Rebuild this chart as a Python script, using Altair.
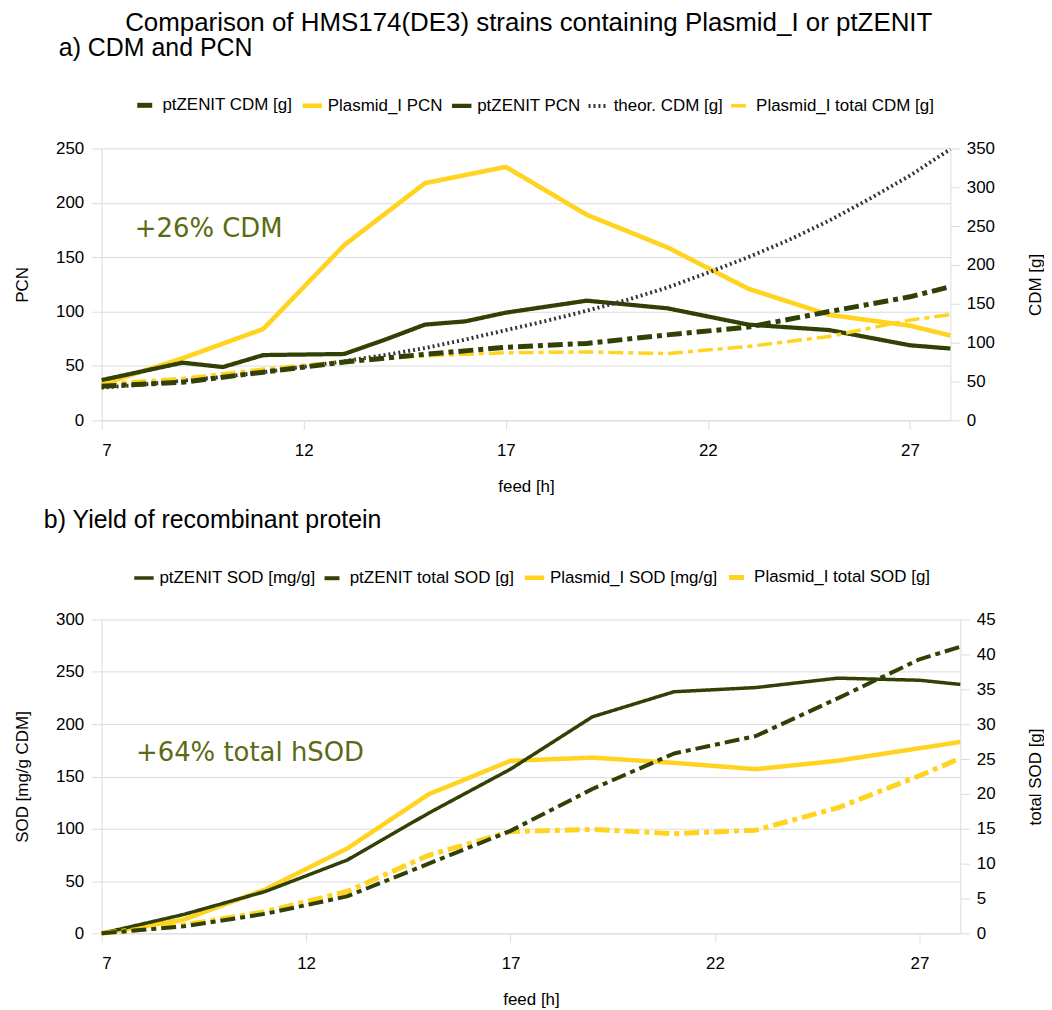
import altair as alt
import pandas as pd

# ---------------- data ----------------
DARK = "#314004"
YELLOW = "#ffd320"

# panel a
hours_odd = [7, 9, 11, 13, 15, 17, 19, 21, 23, 25, 27, 28]
plasmid_pcn = [33, 57, 84, 161, 218, 233, 189, 159, 121, 97, 87, 78]
ptz_pcn_hours = [7, 9, 10, 11, 13, 14, 15, 16, 17, 19, 21, 23, 25, 27, 28]
ptz_pcn = [37, 53, 49, 60, 61, 74, 88, 91, 99, 110, 103, 88, 83, 69, 66]
ptz_cdm = [44, 49, 62, 75, 85, 94, 99, 110, 120, 140, 159, 172]
plasmid_total_cdm = [47, 54, 66, 76, 83, 87, 88, 86, 95, 108, 129, 136]
theor_hours = list(range(7, 29))
theor_cdm = [42, 46, 51, 56, 62, 69, 76, 84, 93, 104, 116, 128, 141, 155, 171,
             190, 210, 232, 257, 285, 315, 349]

# panel b
ptz_sod = [0, 18, 40, 70, 115, 157, 207, 231, 235, 244, 242, 238]
plasmid_sod = [0, 13, 42, 81, 133, 165, 168, 163, 157, 165, 177, 183]
ptz_total_sod = [0, 1.0, 2.8, 5.3, 10.0, 14.7, 20.7, 25.8, 28.3, 33.7, 39.3, 41.1]
plasmid_total_sod = [0, 1.2, 3.1, 6.0, 11.2, 14.6, 14.9, 14.3, 14.8, 18.0, 22.6, 25.1]

order_a = ["ptZENIT CDM [g]", "Plasmid_I PCN", "ptZENIT PCN", "theor. CDM [g]",
           "Plasmid_I total CDM [g]"]
colors_a = [DARK, YELLOW, DARK, "#333333", YELLOW]
DASH = [15, 5, 5, 5]
dashes_a = [DASH, [1, 0], [1, 0], [2, 3], DASH]
widths_a = [5, 3.5, 3.5, 1.0, 5]

order_b = ["ptZENIT SOD [mg/g]", "ptZENIT total SOD [g]", "Plasmid_I SOD [mg/g]",
           "Plasmid_I total SOD [g]"]
colors_b = [DARK, DARK, YELLOW, YELLOW]
dashes_b = [[1, 0], DASH, [1, 0], DASH]
widths_b = [3.5, 5, 3.5, 5]

ann_a = pd.DataFrame({"h": [7.82], "v": [168.4], "t": ["+26% CDM"]})
ann_b = pd.DataFrame({"h": [7.84], "v": [164.6], "t": ["+64% total hSOD"]})


def long(series, hours, vals):
    return pd.DataFrame({"series": series, "h": hours, "v": vals})


left_a = pd.concat([long("Plasmid_I PCN", hours_odd, plasmid_pcn),
                    long("ptZENIT PCN", ptz_pcn_hours, ptz_pcn)])
right_a = pd.concat([long("theor. CDM [g]", theor_hours, theor_cdm),
                     long("Plasmid_I total CDM [g]", hours_odd, plasmid_total_cdm),
                     long("ptZENIT CDM [g]", hours_odd, ptz_cdm)])
left_b = pd.concat([long("Plasmid_I SOD [mg/g]", hours_odd, plasmid_sod),
                    long("ptZENIT SOD [mg/g]", hours_odd, ptz_sod)])
right_b = pd.concat([long("Plasmid_I total SOD [g]", hours_odd, plasmid_total_sod),
                     long("ptZENIT total SOD [g]", hours_odd, ptz_total_sod)])

FONT = "Liberation Sans"
GRID = "#dcdcdc"


def x_enc():
    return alt.X("h:Q", scale=alt.Scale(domain=[7, 28], nice=False, zero=False),
                 axis=alt.Axis(values=[7, 12, 17, 22, 27], title="feed [h]", grid=False,
                               tickSize=9, labelPadding=13, titlePadding=20))


def style_enc(order, colors, dashes, widths, legend_x, legend_y):
    leg = alt.Legend(orient="none", legendX=legend_x, legendY=legend_y,
                     direction="horizontal", columns=len(order), title=None,
                     symbolType="stroke", symbolSize=380, labelOffset=3,
                     columnPadding=0, labelFontSize=17, labelFont=FONT,
                     labelColor="black", labelLimit=400)
    return dict(
        color=alt.Color("series:N", scale=alt.Scale(domain=order, range=colors), legend=leg),
        strokeDash=alt.StrokeDash("series:N", scale=alt.Scale(domain=order, range=dashes), legend=leg),
        strokeWidth=alt.StrokeWidth("series:N", scale=alt.Scale(domain=order, range=widths), legend=leg),
    )


def left_axis(title, values):
    return alt.Axis(values=values, title=title, grid=True, gridColor=GRID, tickSize=10,
                    labelPadding=8, titlePadding=24)


def right_axis(title, values):
    return alt.Axis(values=values, title=title, orient="right", grid=False, tickSize=9,
                    labelPadding=7, titlePadding=50, titleAngle=270)


def panel(left_df, right_df, ann, order, colors, dashes, widths, lmax, lvals, ltitle,
          rmax, rvals, rtitle, lx, ly, title, tdx, w, h):
    st = style_enc(order, colors, dashes, widths, lx, ly)
    left_lines = alt.Chart(left_df).mark_line(strokeCap="butt", strokeJoin="round").encode(
        x=x_enc(),
        y=alt.Y("v:Q", scale=alt.Scale(domain=[0, lmax], nice=False), axis=left_axis(ltitle, lvals)),
        detail="series:N", **st)
    text = alt.Chart(ann).mark_text(align="left", baseline="alphabetic", font="DejaVu Sans",
                                    fontSize=26, color="#5a6b14").encode(
        x=alt.X("h:Q"), y=alt.Y("v:Q"), text="t:N")
    left = alt.layer(left_lines, text)
    right = alt.Chart(right_df).mark_line(strokeCap="butt", strokeJoin="round").encode(
        x=x_enc(),
        y=alt.Y("v:Q", scale=alt.Scale(domain=[0, rmax], nice=False), axis=right_axis(rtitle, rvals)),
        detail="series:N", **st)
    return alt.layer(left, right).resolve_scale(y="independent").properties(
        width=w, height=h,
        title=alt.TitleParams(title, anchor="start", frame="group", fontSize=25, font=FONT,
                              fontWeight="normal", color="black", dx=tdx, offset=32))


pa = panel(left_a, right_a, ann_a, order_a, colors_a, dashes_a, widths_a,
           250, [0, 50, 100, 150, 200, 250], "PCN",
           350, [0, 50, 100, 150, 200, 250, 300, 350], "CDM [g]",
           33, -56, "a) CDM and PCN", -43, 852, 273)
pb = panel(left_b, right_b, ann_b, order_b, colors_b, dashes_b, widths_b,
           300, [0, 50, 100, 150, 200, 250, 300], "SOD [mg/g CDM]",
           45, [0, 5, 10, 15, 20, 25, 30, 35, 40, 45], "total  SOD [g]",
           30, -55, "b) Yield of recombinant protein", -58, 862, 315)

chart = alt.vconcat(pa, pb, spacing=200, bounds="flush").resolve_scale(
    color="independent", strokeDash="independent", strokeWidth="independent", x="independent"
).properties(
    title=alt.TitleParams("Comparison of HMS174(DE3) strains containing Plasmid_I or ptZENIT",
                          anchor="middle", fontSize=26, font=FONT, fontWeight="normal",
                          color="black", offset=0),
    padding={"left": 5, "top": 0, "right": 0, "bottom": 0},
).configure_view(stroke=None).configure_axis(
    labelFont=FONT, titleFont=FONT, labelFontSize=17, titleFontSize=17,
    titleFontWeight="normal", labelColor="black", titleColor="black",
    domainColor=GRID, tickColor=GRID,
)

chart.save("out.html", embed_options={"renderer": "svg", "actions": False})
